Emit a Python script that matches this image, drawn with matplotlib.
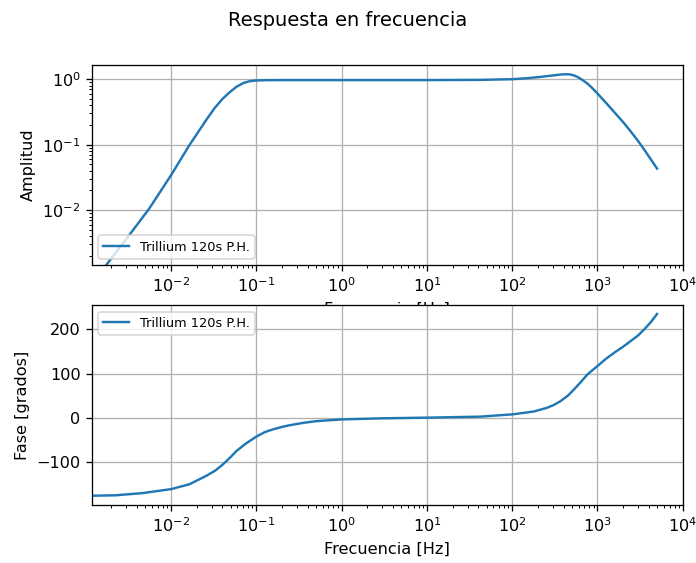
import matplotlib as mpl
mpl.use('Agg')
import matplotlib.pyplot as plt

#valores
etiqueta = "Trillium 120s P.H."

#amplitud
f_amp = [1.2e-3, 1.79e-3, 3.23e-3, 5.55e-3, 0.01, 0.0164, 0.0258, 0.0323, 0.0405,
         0.0460, 0.0500, 0.0582, 0.0700, 0.0834, 0.1, 0.131, 0.2, 0.5, 1.0, 10.0,
         42.4, 101.6, 150.0, 215.0, 300.0, 380.0, 424.0, 480.0, 530.0, 582.0,
         660.0, 762.0, 870.0, 1000.0, 1250.0, 1567.0, 2000.0, 2466.0, 3000.0,
         3532.0, 4200.0, 4990.0]
amplitud = [7.4e-4, 1.53e-3, 4.15e-3, 0.0106, 0.0342, 0.0982, 0.237, 0.36, 0.506,
            0.59, 0.65, 0.762, 0.87, 0.931, 0.955, 0.965, 0.968, 0.968, 0.968, 0.968,
            0.975, 1.0, 1.035, 1.084, 1.14, 1.18, 1.19, 1.18, 1.14, 1.084,
            0.98, 0.857, 0.73, 0.603, 0.44, 0.316, 0.221, 0.158, 0.1135,
            0.0841, 0.0603, 0.0432]

#fase
f_fase = [1.15e-3, 2.25e-3, 4.63e-3, 0.01, 0.0164, 0.0258, 0.0330, 0.0405, 0.0490,
          0.0582, 0.075, 0.1, 0.125, 0.157, 0.2, 0.242, 0.35, 0.5, 0.7, 1.0, 3.0,
          10.0, 42.4, 101.6, 180.0, 258.0, 310.0, 370.0, 450.0, 531.0, 640.0,
          762.0, 1000.0, 1250.0, 1567.0, 2000.0, 2466.0, 3000.0, 3532.0, 4200.0,
          4990.0]
fase = [-177, -176, -171, -162, -151, -132, -120, -106, -91,
        -76, -59, -43, -33, -26.5, -21, -17.4, -12, -8, -6, -4, -1.5,
        0, 2.3, 7.5, 14, 22.6, 29, 37.6, 50, 64, 81,
        98, 117, 133, 147, 161, 174, 186.5, 200, 216,
        235]

fig = plt.figure(figsize=(696/116, 563/116), dpi=116)
fig.suptitle("Respuesta en frecuencia")

#grafico de amplitud
ax1 = fig.add_axes([0.132, 0.529, 0.849, 0.356])
ax1.loglog(f_amp, amplitud, label=etiqueta)
ax1.set_xlim(1.18e-3, 1e4)
ax1.set_ylim(1.45e-3, 1.66)
ax1.set_xlabel("Frecuencia [Hz]")
ax1.set_ylabel("Amplitud")
ax1.grid(True)
ax1.legend(loc='lower left', fontsize=8)

#grafico de fase
ax2 = fig.add_axes([0.132, 0.103, 0.849, 0.355])
ax2.semilogx(f_fase, fase, label=etiqueta)
ax2.set_xlim(1.18e-3, 1e4)
ax2.set_ylim(-198, 255)
ax2.set_xlabel("Frecuencia [Hz]")
ax2.set_ylabel("Fase [grados]")
ax2.grid(True)
ax2.legend(loc='upper left', fontsize=8)

fig.savefig("out.png", dpi=116)
